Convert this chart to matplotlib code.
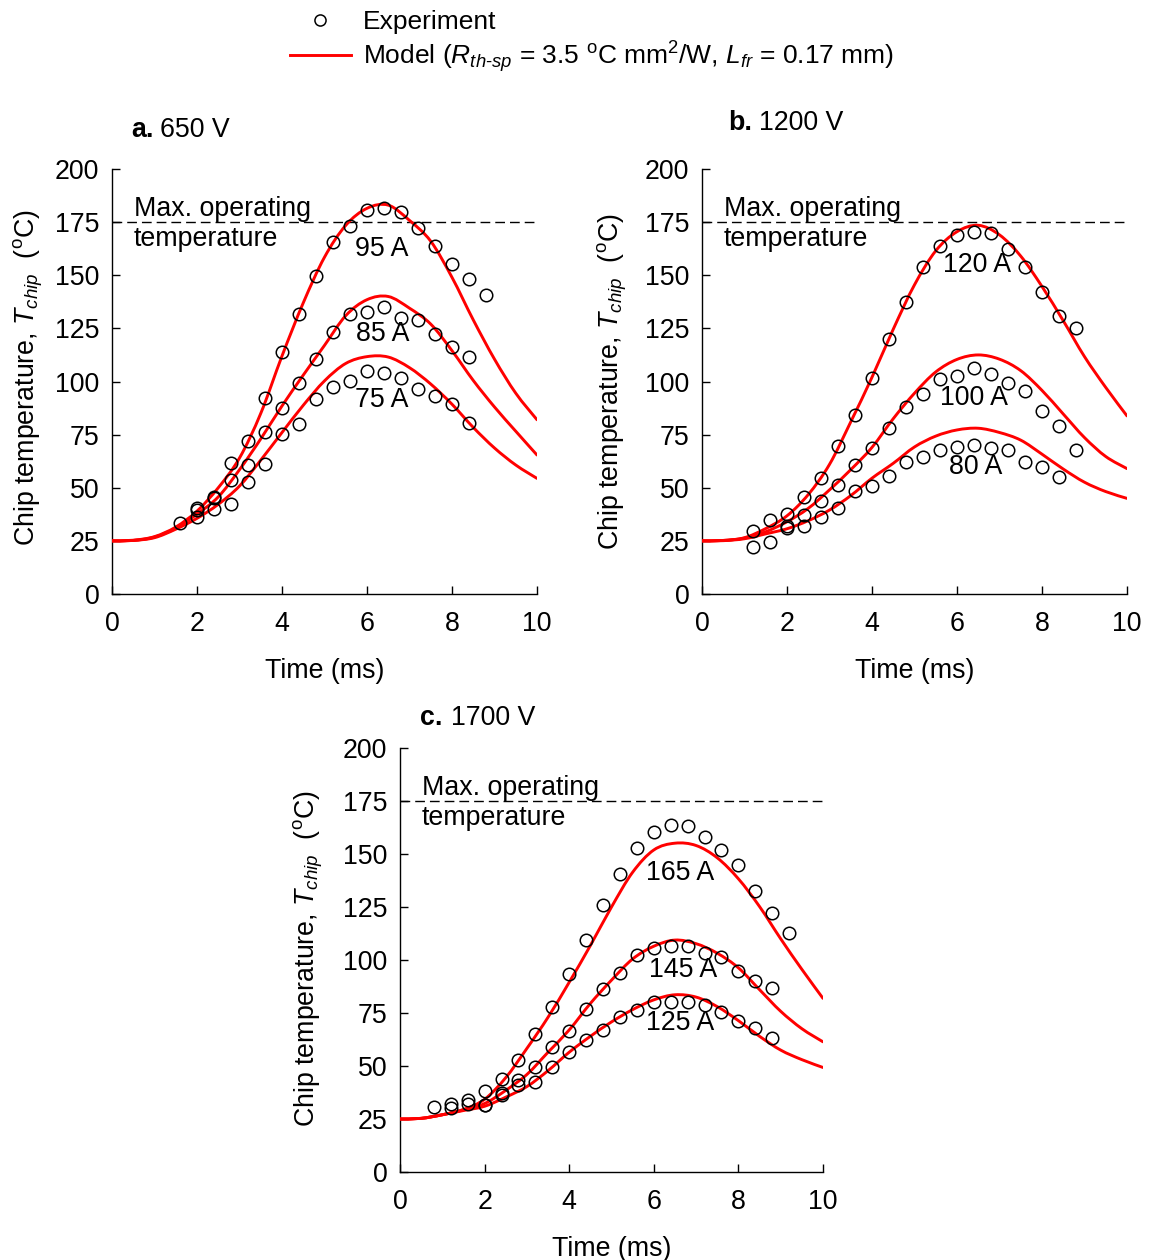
import numpy as np
import matplotlib
matplotlib.use('Agg')
import matplotlib.pyplot as plt
from matplotlib.path import Path
from matplotlib.patches import PathPatch
from matplotlib.lines import Line2D

plt.rcParams['font.family'] = ['Liberation Sans', 'DejaVu Sans']
plt.rcParams['mathtext.fontset'] = 'custom'
plt.rcParams['mathtext.rm'] = 'Liberation Sans'
plt.rcParams['mathtext.it'] = 'Liberation Sans:italic'
plt.rcParams['mathtext.bf'] = 'Liberation Sans:bold'
plt.rcParams['mathtext.sf'] = 'Liberation Sans'

FS = 19.3

# ---------------- data ----------------
t_model = [0, 0.5, 1.0, 1.5, 2.0, 2.5, 3.0, 3.5, 4.0, 4.5, 5.0,
           5.5, 6.0, 6.5, 7.0, 7.5, 8.0, 8.5, 9.0, 9.5, 10.0]

# panel a: 650 V
a_model_95 = [25, 25.3, 27, 31.5, 39, 50, 64, 85, 112, 137, 158.5,
              173.5, 181.5, 183, 175.8, 166, 149, 129, 110.5, 94.5, 82]
a_model_85 = [25, 25.2, 26.8, 31, 37.6, 45.7, 58.5, 73, 88.5, 103, 117,
              131, 138.5, 140, 134.5, 127, 114.5, 100.5, 88, 76.6, 65.4]
a_model_75 = [25, 25.2, 26.5, 30.5, 35.6, 42.2, 50.8, 63, 76, 88.8, 100.3,
              108.5, 111.7, 111.5, 106.5, 98.8, 89.3, 78.4, 68.7, 60.7, 54.4]
a_t95 = [1.6, 2.0, 2.4, 2.8, 3.2, 3.6, 4.0, 4.4, 4.8, 5.2, 5.6, 6.0, 6.4,
         6.8, 7.2, 7.6, 8.0, 8.4, 8.8]
a_exp_95 = [33.6, 40.3, 45.5, 61.8, 72.0, 92.1, 113.7, 131.6, 149.8, 165.5,
            173.2, 180.7, 181.5, 179.6, 172.1, 163.8, 155.3, 148.1, 140.7]
a_t85 = [2.0, 2.4, 2.8, 3.2, 3.6, 4.0, 4.4, 4.8, 5.2, 5.6, 6.0, 6.4, 6.8,
         7.2, 7.6, 8.0, 8.4]
a_exp_85 = [39.5, 45.0, 53.8, 60.9, 76.3, 87.4, 99.1, 110.4, 123.4, 131.8,
            132.9, 135.2, 130.0, 128.9, 122.2, 116.1, 111.4]
a_t75 = [2.0, 2.4, 2.8, 3.2, 3.6, 4.0, 4.4, 4.8, 5.2, 5.6, 6.0, 6.4, 6.8,
         7.2, 7.6, 8.0, 8.4]
a_exp_75 = [36.4, 39.8, 42.5, 52.5, 61.0, 75.1, 80.0, 91.6, 97.3, 100.2,
            104.9, 104.2, 101.5, 96.3, 93.2, 89.4, 80.3]

# panel b: 1200 V
b_model_120 = [25, 25.2, 26.5, 30.8, 36.8, 46.8, 61, 81, 102, 124.6, 145.5,
               161.5, 170.5, 173.5, 169, 159, 144.7, 128.6, 111.7, 97.2, 83.8]
b_model_100 = [25, 25.2, 26.3, 29.3, 34, 40.3, 49, 58.5, 69, 82.5, 94.5,
               104.5, 110.4, 112.5, 110.5, 105.1, 95.8, 84.7, 73.6, 64.7, 59]
b_model_80 = [25, 25.1, 26, 28.3, 30.7, 34.5, 39.5, 46.3, 54.5, 61.5, 69.2,
              74.3, 77.2, 78, 76, 72.4, 65.8, 58.8, 52.6, 48.2, 45]
b_t120 = [1.2, 1.6, 2.0, 2.4, 2.8, 3.2, 3.6, 4.0, 4.4, 4.8, 5.2, 5.6, 6.0,
          6.4, 6.8, 7.2, 7.6, 8.0, 8.4, 8.8]
b_exp_120 = [29.5, 34.8, 37.5, 45.5, 54.6, 69.5, 84.4, 101.6, 119.8, 137.6,
             153.7, 164.0, 168.9, 170.5, 169.7, 162.2, 153.7, 142.3, 130.8, 125.3]
b_t100 = [2.0, 2.4, 2.8, 3.2, 3.6, 4.0, 4.4, 4.8, 5.2, 5.6, 6.0, 6.4, 6.8,
          7.2, 7.6, 8.0, 8.4, 8.8]
b_exp_100 = [31.8, 37.2, 44.0, 51.3, 60.7, 68.8, 78.0, 88.2, 94.0, 101.1,
             102.6, 106.2, 103.4, 99.5, 95.5, 86.1, 79.0, 68.0]
b_t80 = [1.2, 1.6, 2.0, 2.4, 2.8, 3.2, 3.6, 4.0, 4.4, 4.8, 5.2, 5.6, 6.0,
         6.4, 6.8, 7.2, 7.6, 8.0, 8.4]
b_exp_80 = [22.3, 24.6, 31.0, 32.2, 36.1, 40.5, 48.4, 50.7, 55.6, 62.3, 64.7,
            67.8, 69.4, 70.2, 68.6, 67.8, 62.0, 59.9, 55.2]

# panel c: 1700 V
c_model_165 = [25, 25.3, 27, 29.5, 34.3, 44.5, 58.3, 73, 89.5, 106.8, 125,
               141.4, 151.9, 155.1, 154, 148.2, 138.3, 125.2, 110, 95.6, 81.9]
c_model_145 = [25, 25.3, 27, 29.3, 32.3, 38.5, 46, 56.5, 67, 79.5, 90.5,
               100.5, 106.5, 109.4, 107.7, 103.2, 96.3, 86, 75.8, 67.6, 61.4]
c_model_125 = [25, 25.3, 27, 29, 31, 35.3, 40.3, 47.8, 56.5, 64, 70.8,
               76.6, 81.2, 83.6, 82.5, 78, 71.4, 64, 57.5, 53, 49.3]
c_t165 = [0.8, 1.2, 1.6, 2.0, 2.4, 2.8, 3.2, 3.6, 4.0, 4.4, 4.8, 5.2, 5.6,
          6.0, 6.4, 6.8, 7.2, 7.6, 8.0, 8.4, 8.8, 9.2]
c_exp_165 = [30.5, 32.3, 33.9, 38.3, 43.8, 53.0, 65.0, 78.0, 93.2, 109.4,
             126.0, 140.6, 153.0, 160.2, 163.7, 163.2, 158.2, 151.9, 144.8,
             132.5, 122.0, 112.6]
c_t145 = [1.2, 1.6, 2.0, 2.4, 2.8, 3.2, 3.6, 4.0, 4.4, 4.8, 5.2, 5.6, 6.0,
          6.4, 6.8, 7.2, 7.6, 8.0, 8.4, 8.8]
c_exp_145 = [30.1, 32.0, 31.6, 37.1, 43.3, 49.3, 59.1, 66.4, 76.9, 86.5,
             94.0, 102.2, 105.5, 106.8, 106.8, 103.5, 101.6, 95.0, 90.1, 86.9]
c_t125 = [2.0, 2.4, 2.8, 3.2, 3.6, 4.0, 4.4, 4.8, 5.2, 5.6, 6.0, 6.4, 6.8,
          7.2, 7.6, 8.0, 8.4, 8.8]
c_exp_125 = [31.6, 36.5, 41.0, 42.6, 49.7, 56.8, 62.4, 67.2, 73.3, 76.4,
             80.1, 80.4, 80.4, 78.8, 75.4, 71.0, 68.1, 63.4]

x_ticks = [0, 2, 4, 6, 8, 10]
y_ticks = [0, 25, 50, 75, 100, 125, 150, 175, 200]
t_max_op = 175

panel_titles = ['a.', 'b.', 'c.']
panel_volts = ['650 V', '1200 V', '1700 V']
current_labels = {
    'a': ['95 A', '85 A', '75 A'],
    'b': ['120 A', '100 A', '80 A'],
    'c': ['165 A', '145 A', '125 A'],
}

# ---------------- helpers ----------------
def smooth_path(x, y):
    pts = np.column_stack([np.asarray(x, float), np.asarray(y, float)])
    n = len(pts)
    verts = [pts[0]]
    codes = [Path.MOVETO]
    for i in range(n - 1):
        p0 = pts[i - 1] if i > 0 else pts[i]
        p1 = pts[i]
        p2 = pts[i + 1]
        p3 = pts[i + 2] if i + 2 < n else pts[i + 1]
        c1 = p1 + (p2 - p0) / 6.0
        c2 = p2 - (p3 - p1) / 6.0
        verts += [c1, c2, p2]
        codes += [Path.CURVE4] * 3
    return Path(verts, codes)


def setup_axes(ax, ylab_x, ylab_y):
    ax.set_xlim(0, 10)
    ax.set_ylim(0, 200)
    ax.set_xticks(x_ticks)
    ax.set_yticks(y_ticks)
    for s in ['top', 'right']:
        ax.spines[s].set_visible(False)
    for s in ['left', 'bottom']:
        ax.spines[s].set_linewidth(1.0)
    ax.tick_params(direction='in', length=6, width=1.0, labelsize=FS)
    ax.tick_params(axis='x', pad=12)
    ax.tick_params(axis='y', pad=9)
    ax.set_xlabel('Time (ms)', fontsize=FS, labelpad=15)
    ax.set_ylabel(r'Chip temperature, $T_{chip}$  ($^{\rm o}$C)', fontsize=FS,
                  va='center')
    ax.yaxis.set_label_coords(ylab_x, ylab_y)
    ax.hlines(t_max_op, 0, 10, colors='black', linewidth=1.0,
              linestyles=(0, (7.0, 3.6)))
    ax.text(0.52, t_max_op - 0.8, 'Max. operating\ntemperature', fontsize=FS,
            ha='left', va='center', linespacing=1.2)


def draw_panel(ax, models, exps, labels, label_pos):
    for m in models:
        ax.add_patch(PathPatch(smooth_path(t_model, m), facecolor='none',
                               edgecolor='red', lw=2.1, zorder=3,
                               capstyle='round'))
    for tt, ee in exps:
        ax.plot(tt, ee, ls='none', marker='o', ms=9, mfc='none', mec='black',
                mew=1.1, zorder=4)
    for lab, (lx, ly) in zip(labels, label_pos):
        ax.text(lx, ly, lab, fontsize=FS, ha='center', va='center', zorder=5)


# ---------------- figure ----------------
W, H = 1154, 1260
fig = plt.figure(figsize=(W / 100, H / 100), dpi=100)

def px_axes(x0, x1, y0, y1):
    return fig.add_axes([x0 / W, 1 - y1 / H, (x1 - x0) / W, (y1 - y0) / H])

ax_a = px_axes(112, 537, 169, 594)
ax_b = px_axes(702, 1127, 169, 594)
ax_c = px_axes(400, 823, 748, 1172)

setup_axes(ax_a, -0.196, 0.51)
setup_axes(ax_b, -0.212, 0.50)
setup_axes(ax_c, -0.217, 0.503)

draw_panel(ax_a, [a_model_95, a_model_85, a_model_75],
           [(a_t95, a_exp_95), (a_t85, a_exp_85), (a_t75, a_exp_75)],
           current_labels['a'], [(6.35, 162.4), (6.38, 122.4), (6.35, 91.3)])
draw_panel(ax_b, [b_model_120, b_model_100, b_model_80],
           [(b_t120, b_exp_120), (b_t100, b_exp_100), (b_t80, b_exp_80)],
           current_labels['b'], [(6.47, 154.8), (6.4, 92.2), (6.45, 59.8)])
draw_panel(ax_c, [c_model_165, c_model_145, c_model_125],
           [(c_t165, c_exp_165), (c_t145, c_exp_145), (c_t125, c_exp_125)],
           current_labels['c'], [(6.62, 141.0), (6.69, 95.3), (6.62, 70.3)])

# panel titles
for (px, pv, py), ttl, volt in zip([(131, 160, 130), (728, 759, 123), (420, 451, 718)],
                                   panel_titles, panel_volts):
    fig.text(px / W, 1 - py / H, ttl, fontsize=FS, fontweight='bold',
             ha='left', va='center')
    fig.text(pv / W, 1 - py / H, volt, fontsize=FS, ha='left', va='center')

# legend
handles = [Line2D([], [], ls='none', marker='o', ms=8, mfc='none',
                  mec='black', mew=1.1),
           Line2D([], [], color='red', lw=2.1)]
labels = ['Experiment',
          r'Model ($R_{th\text{-}sp}$ = 3.5 $^{\rm o}$C mm$^2$/W, $L_{fr}$ = 0.17 mm)']
fig.legend(handles, labels, loc='upper left',
           bbox_to_anchor=(290 / W, 1 - 10 / H), frameon=False, fontsize=19,
           handlelength=2.3, handletextpad=0.45, labelspacing=0.2,
           borderpad=0, borderaxespad=0)

fig.savefig('out.png', dpi=100)
